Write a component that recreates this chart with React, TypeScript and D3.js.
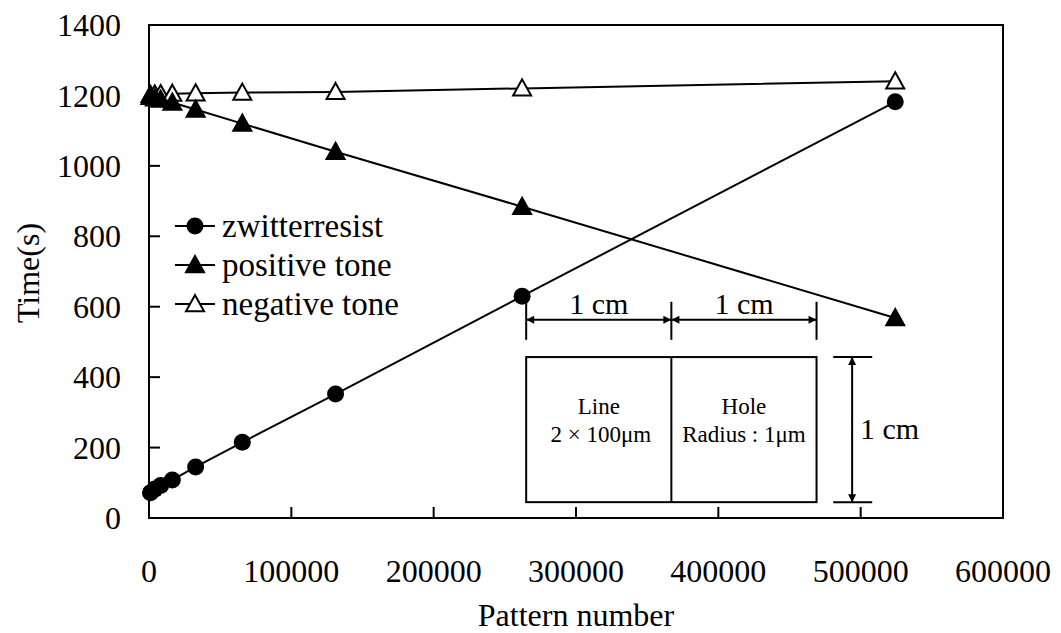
import React from "react";
import * as d3 from "d3";

const patternNumbers = [1024, 4096, 8192, 16384, 32768, 65536, 131072, 262144, 524288];
const zwitterresist = [72, 82, 92, 108, 145, 215, 352, 630, 1182];
const positiveTone = [1196, 1192, 1188, 1180, 1160, 1120, 1040, 884, 568];
const negativeTone = [1202, 1203, 1204, 1205, 1206, 1208, 1210, 1220, 1240];
const xTicks = [0, 100000, 200000, 300000, 400000, 500000, 600000];
const yTicks = [0, 200, 400, 600, 800, 1000, 1200, 1400];
const seriesNames = ["zwitterresist", "positive tone", "negative tone"];

const W = 1061;
const H = 633;
const M = { left: 149, right: 1003, top: 25, bottom: 518 };
const FONT = "'Liberation Serif', 'Times New Roman', serif";

export default function App() {
  const x = d3.scaleLinear().domain([0, 600000]).range([M.left, M.right]);
  const y = d3.scaleLinear().domain([0, 1400]).range([M.bottom, M.top]);
  const line = d3
    .line<[number, number]>()
    .x((d) => x(d[0]))
    .y((d) => y(d[1]));

  const series = [zwitterresist, positiveTone, negativeTone].map((vals) =>
    patternNumbers.map((p, i) => [p, vals[i]] as [number, number])
  );

  const circle = (cx: number, cy: number, k: string) => (
    <circle key={k} cx={cx} cy={cy} r={8.5} fill="#000" />
  );
  const tri = (cx: number, cy: number, filled: boolean, k: string) => {
    const s = 9;
    const p = `M${cx},${cy - s} L${cx + s},${cy + s * 0.8} L${cx - s},${cy + s * 0.8} Z`;
    return (
      <path
        key={k}
        d={p}
        fill={filled ? "#000" : "#fff"}
        stroke="#000"
        strokeWidth={2}
      />
    );
  };
  const marker = (si: number, cx: number, cy: number, k: string) =>
    si === 0 ? circle(cx, cy, k) : tri(cx, cy, si === 1, k);

  // inset annotation (data units)
  const rx0 = x(265000);
  const rx1 = x(367000);
  const rx2 = x(469000);
  const ry0 = y(457);
  const ry1 = y(45);
  const dimY = y(563);
  const tickTop = y(614);
  const tickBot = y(506);
  const vx = x(494000);
  const hx0 = x(480700);
  const hx1 = x(508100);

  const arrowH = (ax: number, ay: number, dir: number, k: string) => (
    <path
      key={k}
      d={`M${ax},${ay} L${ax + dir * 8},${ay - 4} L${ax + dir * 8},${ay + 4} Z`}
      fill="#000"
    />
  );
  const arrowV = (ax: number, ay: number, dir: number, k: string) => (
    <path
      key={k}
      d={`M${ax},${ay} L${ax - 4},${ay + dir * 8} L${ax + 4},${ay + dir * 8} Z`}
      fill="#000"
    />
  );

  const legendY = [226, 265, 304];

  return (
    <svg width={W} height={H} style={{ position: "absolute", left: 0, top: 0, background: "#fff" }} fontFamily={FONT}>
      <rect x={0} y={0} width={W} height={H} fill="#fff" />
      {/* frame */}
      <rect
        x={M.left}
        y={M.top}
        width={M.right - M.left}
        height={M.bottom - M.top}
        fill="none"
        stroke="#000"
        strokeWidth={2}
      />
      {/* y ticks */}
      {yTicks.map((t) => (
        <g key={"y" + t}>
          {t > 0 && t < 1400 && (
            <line x1={M.left} x2={M.left + 11} y1={y(t)} y2={y(t)} stroke="#000" strokeWidth={2} />
          )}
          <text x={121} y={y(t)} dy="0.35em" textAnchor="end" fontSize={32}>
            {t}
          </text>
        </g>
      ))}
      {/* x ticks */}
      {xTicks.map((t) => (
        <g key={"x" + t}>
          {t > 0 && t < 600000 && (
            <line x1={x(t)} x2={x(t)} y1={M.bottom} y2={M.bottom - 11} stroke="#000" strokeWidth={2} />
          )}
          <text x={x(t)} y={582} textAnchor="middle" fontSize={32}>
            {t}
          </text>
        </g>
      ))}
      <text x={576} y={626} textAnchor="middle" fontSize={32}>
        Pattern number
      </text>
      <text
        transform={`translate(39,273) rotate(-90)`}
        textAnchor="middle"
        fontSize={32}
      >
        Time(s)
      </text>

      {/* series lines */}
      {series.map((s, si) => (
        <path key={"l" + si} d={line(s) || ""} fill="none" stroke="#000" strokeWidth={2} />
      ))}
      {/* markers: draw negative first then positive then zwitter */}
      {[2, 1, 0].map((si) =>
        series[si].map((d, i) => marker(si, x(d[0]), y(d[1]), `m${si}-${i}`))
      )}

      {/* legend */}
      {seriesNames.map((n, i) => (
        <g key={"lg" + i}>
          <line x1={175} x2={215} y1={legendY[i]} y2={legendY[i]} stroke="#000" strokeWidth={2} />
          {marker(i, 195, legendY[i], "lm" + i)}
          <text x={222} y={legendY[i]} dy="0.33em" fontSize={33}>
            {n}
          </text>
        </g>
      ))}

      {/* inset diagram */}
      <rect x={rx0} y={ry0} width={rx2 - rx0} height={ry1 - ry0} fill="#fff" stroke="#000" strokeWidth={2} />
      <line x1={rx1} x2={rx1} y1={ry0} y2={ry1} stroke="#000" strokeWidth={2} />
      <text x={(rx0 + rx1) / 2} y={406} dy="0.35em" textAnchor="middle" fontSize={23}>
        Line
      </text>
      <text x={(rx0 + rx1) / 2 + 2} y={434} dy="0.35em" textAnchor="middle" fontSize={23}>
        2 × 100μm
      </text>
      <text x={(rx1 + rx2) / 2} y={406} dy="0.35em" textAnchor="middle" fontSize={23}>
        Hole
      </text>
      <text x={(rx1 + rx2) / 2} y={434} dy="0.35em" textAnchor="middle" fontSize={23}>
        Radius : 1μm
      </text>

      {/* top dimension */}
      <line x1={rx0} x2={rx2} y1={dimY} y2={dimY} stroke="#000" strokeWidth={2} />
      {[rx0, rx1, rx2].map((tx, i) => (
        <line key={"dt" + i} x1={tx} x2={tx} y1={tickTop} y2={tickBot} stroke="#000" strokeWidth={2} />
      ))}
      {arrowH(rx0, dimY, 1, "a1")}
      {arrowH(rx1, dimY, -1, "a2")}
      {arrowH(rx1, dimY, 1, "a3")}
      {arrowH(rx2, dimY, -1, "a4")}
      <text x={(rx0 + rx1) / 2} y={303} dy="0.35em" textAnchor="middle" fontSize={30}>
        1 cm
      </text>
      <text x={(rx1 + rx2) / 2} y={303} dy="0.35em" textAnchor="middle" fontSize={30}>
        1 cm
      </text>

      {/* right dimension */}
      <line x1={vx} x2={vx} y1={ry0} y2={ry1} stroke="#000" strokeWidth={2} />
      <line x1={hx0} x2={hx1} y1={ry0} y2={ry0} stroke="#000" strokeWidth={2} />
      <line x1={hx0} x2={hx1} y1={ry1} y2={ry1} stroke="#000" strokeWidth={2} />
      {arrowV(vx, ry0, 1, "a5")}
      {arrowV(vx, ry1, -1, "a6")}
      <text x={860} y={428} dy="0.35em" fontSize={30}>
        1 cm
      </text>
    </svg>
  );
}
